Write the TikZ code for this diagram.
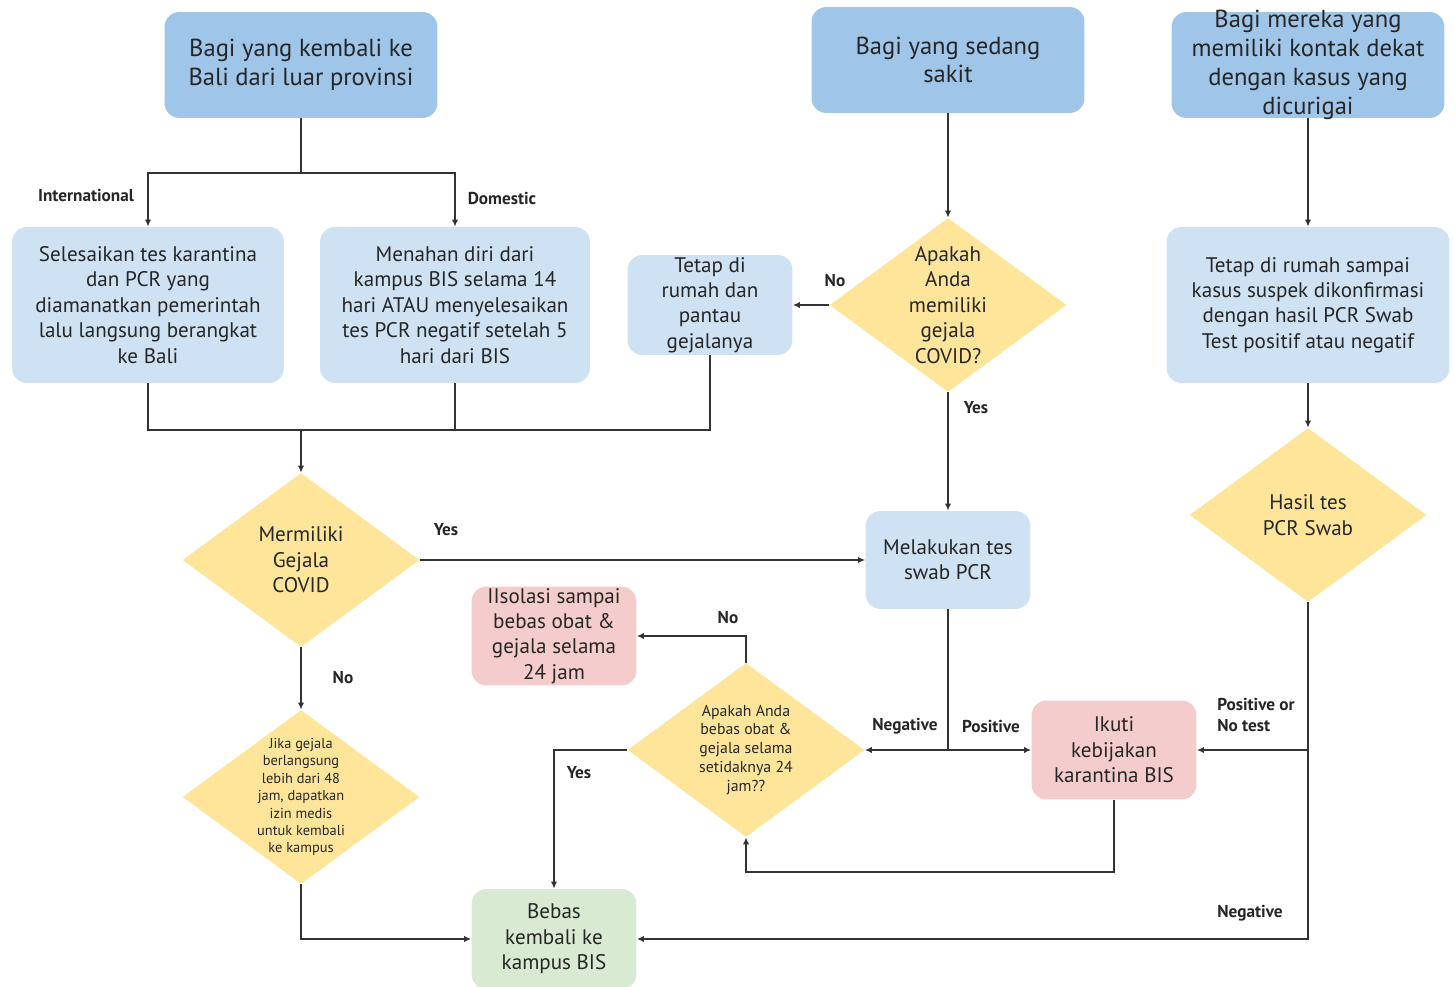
\documentclass[tikz,border=0pt]{standalone}
\usepackage{fontspec}
\setmainfont{PT Sans}
\usepackage{tikz}
\usetikzlibrary{shapes.geometric,arrows.meta,positioning}
\definecolor{topblue}{HTML}{9FC5E8}
\definecolor{lightblue}{HTML}{CFE2F3}
\definecolor{decyellow}{HTML}{FFE599}
\definecolor{stoppink}{HTML}{F4CCCC}
\definecolor{gogreen}{HTML}{D9EAD3}
\definecolor{linegray}{HTML}{333333}
\definecolor{textdark}{HTML}{262626}

\begin{document}
\begin{tikzpicture}[x=0.02cm,y=-0.02cm,every node/.style={text=textdark},
		topbox/.style={rectangle,rounded corners=0.3cm,fill=topblue,minimum width=5.46cm,minimum height=2.12cm,inner sep=0pt,align=center,font=\fontsize{14}{16.4}\selectfont},
		stepbox/.style={rectangle,rounded corners=0.3cm,fill=lightblue,inner sep=0pt,align=center,font=\fontsize{12}{14.5}\selectfont},
		decision/.style={diamond,fill=decyellow,minimum width=4.74cm,minimum height=3.48cm,inner sep=0pt},
		dtext/.style={align=center,text=textdark,font=\fontsize{12}{14.5}\selectfont},
		smalltext/.style={align=center,text=textdark,font=\fontsize{8.2}{9.9}\selectfont},
		lbl/.style={font=\bfseries\fontsize{9.8}{12.4}\selectfont},
		line/.style={draw=linegray,line width=0.9pt},
		arrow/.style={line,-{Latex[length=4pt,width=3.6pt]}}]
		\useasboundingbox (0,0) rectangle (1455,987);

		\node[topbox] (a) at (301,65) {Bagi yang kembali ke\\Bali dari luar provinsi};
		\node[topbox] (b) at (948,60) {Bagi yang sedang\\sakit};
		\node[topbox,label={[font=\fontsize{14}{16.4}\selectfont,align=center,text=textdark]center:{Bagi mereka yang\\memiliki kontak dekat\\dengan kasus yang\\dicurigai}}] (c) at (1308,65) {};

		\node[stepbox,minimum width=5.44cm,minimum height=3.12cm] (d) at (148,305) {Selesaikan tes karantina\\dan PCR yang\\diamanatkan pemerintah\\lalu langsung berangkat\\ke Bali};
		\node[stepbox,minimum width=5.4cm,minimum height=3.12cm] (e) at (455,305) {Menahan diri dari\\kampus BIS selama 14\\hari ATAU menyelesaikan\\tes PCR negatif setelah 5\\hari dari BIS};
		\node[stepbox,minimum width=3.3cm,minimum height=2cm] (f) at (710,305) {Tetap di\\rumah dan\\pantau\\gejalanya};
		\node[decision,label={[dtext]center:{Apakah\\Anda\\memiliki\\gejala\\COVID?}}] (g) at (948,305) {};
		\node[stepbox,minimum width=5.66cm,minimum height=3.12cm] (h) at (1308,305) {Tetap di rumah sampai\\kasus suspek dikonfirmasi\\dengan hasil PCR Swab\\Test positif atau negatif};

		\node[decision,label={[dtext]center:{Hasil tes\\PCR Swab}}] (i) at (1308,515) {};
		\node[decision,label={[dtext]center:{Mermiliki\\Gejala\\COVID}}] (j) at (301,560) {};
		\node[stepbox,minimum width=3.3cm,minimum height=1.96cm] (k) at (948,560) {Melakukan tes\\swab PCR};
		\node[stepbox,fill=stoppink,minimum width=3.3cm,minimum height=1.98cm] (l) at (554,636) {IIsolasi sampai\\bebas obat \&\\gejala selama\\24 jam};
		\node[decision,label={[smalltext,font=\fontsize{9}{10.8}\selectfont]center:{Apakah Anda\\bebas obat \&\\gejala selama\\setidaknya 24\\jam??}}] (m) at (746,750) {};
		\node[stepbox,fill=stoppink,minimum width=3.3cm,minimum height=1.98cm] (n) at (1114,750) {Ikuti\\kebijakan\\karantina BIS};
		\node[decision,label={[smalltext]center:{Jika gejala\\berlangsung\\lebih dari 48\\jam, dapatkan\\izin medis\\untuk kembali\\ke kampus}}] (o) at (301,797) {};
		\node[stepbox,fill=gogreen,minimum width=3.3cm,minimum height=2cm] (p) at (554,939) {Bebas\\kembali ke\\kampus BIS};

		\coordinate (asplit) at (301,173);
		\coordinate (merge) at (301,430);
		\coordinate (kneg) at (k.south |- m.east);
		\coordinate (isplit) at (i.south |- n.east);

		\draw[line] (a.south) -- (asplit);
		\draw[arrow] (asplit) -| (d.north);
		\draw[arrow] (asplit) -| (e.north);
		\draw[line] (d.south) |- (merge);
		\draw[line] (e.south) |- (merge);
		\draw[line] (f.south) |- (merge);
		\draw[arrow] (merge) -- (j.north);

		\draw[arrow] (b.south) -- (g.north);
		\draw[arrow] (g.west) -- (f.east);
		\draw[arrow] (g.south) -- (k.north);
		\draw[arrow] (c.south) -- (h.north);
		\draw[arrow] (h.south) -- (i.north);

		\draw[arrow] (j.east) -- (k.west);
		\draw[arrow] (j.south) -- (o.north);
		\draw[arrow] (o.south) |- (p.west);

		\draw[line] (k.south) -- (kneg);
		\draw[arrow] (kneg) -- (m.east);
		\draw[arrow] (kneg) -- (n.west);
		\draw[arrow] (i.south) |- (p.east);
		\draw[arrow] (isplit) -- (n.east);
		\draw[arrow] (n.south) -- ++(0,72) -| (m.south);
		\draw[arrow] (m.north) |- (l.east);
		\draw[arrow] (m.west) -| (p.north);

		\node[lbl] (l-intl) at (86,195) {International};
		\node[lbl] (l-dom) at (502,198) {Domestic};
		\node[lbl] (l-gno) at (835,281) {No};
		\node[lbl] (l-gyes) at (976,408) {Yes};
		\node[lbl] (l-jyes) at (446,530) {Yes};
		\node[lbl] (l-jno) at (343,678) {No};
		\node[lbl] (l-mno) at (728,618) {No};
		\node[lbl] (l-myes) at (579,773) {Yes};
		\node[lbl] (l-neg) at (905,726) {Negative};
		\node[lbl] (l-pos) at (991,726) {Positive};
		\node[lbl,align=left] (l-posno) at (1256,715) {Positive or\\No test};
		\node[lbl] (l-ineg) at (1250,913) {Negative};
	\end{tikzpicture}
\end{document}
